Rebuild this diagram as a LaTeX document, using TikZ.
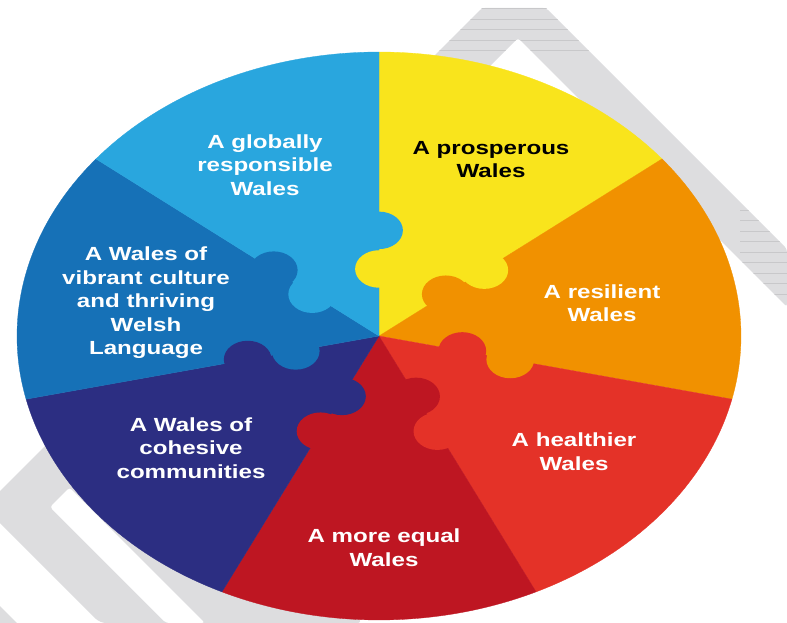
\documentclass[tikz,border=0pt]{standalone}
\usepackage{fontspec}
\newfontfamily\labelfont{Liberation Sans}[FakeStretch=1.27]

\definecolor{cYellow}{RGB}{249,228,28}
\definecolor{cOrange}{RGB}{241,145,0}
\definecolor{cRed}{RGB}{228,50,40}
\definecolor{cDarkRed}{RGB}{190,22,34}
\definecolor{cNavy}{RGB}{44,46,130}
\definecolor{cMidBlue}{RGB}{22,113,183}
\definecolor{cLightBlue}{RGB}{41,166,222}
\definecolor{wmgray}{RGB}{221,221,223}
\definecolor{wmline}{RGB}{200,200,202}

\begin{document}
\begin{tikzpicture}[x=1pt,y=-1pt,
  lbl/.style={font=\labelfont\bfseries\fontsize{19}{23.5}\selectfont,
              align=center, text=white, inner sep=0pt}]
\useasboundingbox (0,0) rectangle (787,623);

% light grey logo shapes in the background
\begin{scope}
  \clip (0,0) rectangle (787,623);
  \fill[wmgray, rounded corners=3pt] (482,8) -- (546,8) -- (787,249) -- (787,307) -- (518,38)
                -- (400,156) -- (340,150) -- cycle;
  % fine hatching on the roof band
  \begin{scope}
    \clip (482,8) -- (546,8) -- (787,249) -- (787,307) -- (518,38)
          -- (400,156) -- (340,150) -- cycle;
    \foreach \yy in {8.5,19,29.5,40,50.5}
      \draw[wmline, line width=0.4pt] (430,\yy) -- (600,\yy);
    \foreach \yy in {210,220.5,231,241.5,252,262.5,273,283.5,294}
      \draw[wmline, line width=0.4pt] (740,\yy) -- (787,\yy);
  \end{scope}
  \fill[wmgray, rounded corners=6pt] (-16,507) -- (115.5,375.5) -- (363,623)
                -- (100,623) -- cycle;
  \fill[white, rounded corners=3pt] (50,507) -- (69.5,487.5) -- (205,623)
                -- (166,623) -- cycle;
  \fill[wmgray] (0,606) -- (17,623) -- (0,623) -- cycle;
\end{scope}

% the seven puzzle wedges
\begin{scope}[shift={(379,336)}, x=362pt, y=284pt]
  \foreach \c [count=\k from 0] in
      {cYellow,cOrange,cRed,cDarkRed,cNavy,cMidBlue,cLightBlue} {
    \pgfmathsetmacro\aa{90-\k*360/7}
    \pgfmathsetmacro\bb{\aa-360/7}
    \fill[\c, draw=\c, line width=0.3pt] (0,0) -- (\bb:1)
      arc[start angle=\bb, end angle=\aa, radius=1] -- cycle;
  }
  % interlocking knobs along each seam
  \foreach \c/\d [count=\k from 0] in
      {cYellow/cLightBlue, cOrange/cYellow, cRed/cOrange, cDarkRed/cRed,
       cNavy/cDarkRed, cMidBlue/cNavy, cLightBlue/cMidBlue} {
    \pgfmathsetmacro\aa{90-\k*360/7}
    \fill[\c] (\aa:0.236) circle[radius=0.066];
    \fill[\d] (\aa:0.372) circle[radius=0.066];
  }
\end{scope}

% labels
\node[lbl] (glob) at (265,165) {A globally\\responsible\\Wales};
\node[lbl, text=black] (pros) at (491,159.5) {A prosperous\\Wales};
\node[lbl] (resil) at (602,303) {A resilient\\Wales};
\node[lbl] (health) at (574,451.5) {A healthier\\Wales};
\node[lbl] (equal) at (384,547.5) {A more equal\\Wales};
\node[lbl] (cohes) at (191,448) {A Wales of\\cohesive\\communities};
\node[lbl] (cult) at (146,303) {A Wales of\\vibrant culture\\and thriving\\Welsh\\Language};
\end{tikzpicture}
\end{document}
